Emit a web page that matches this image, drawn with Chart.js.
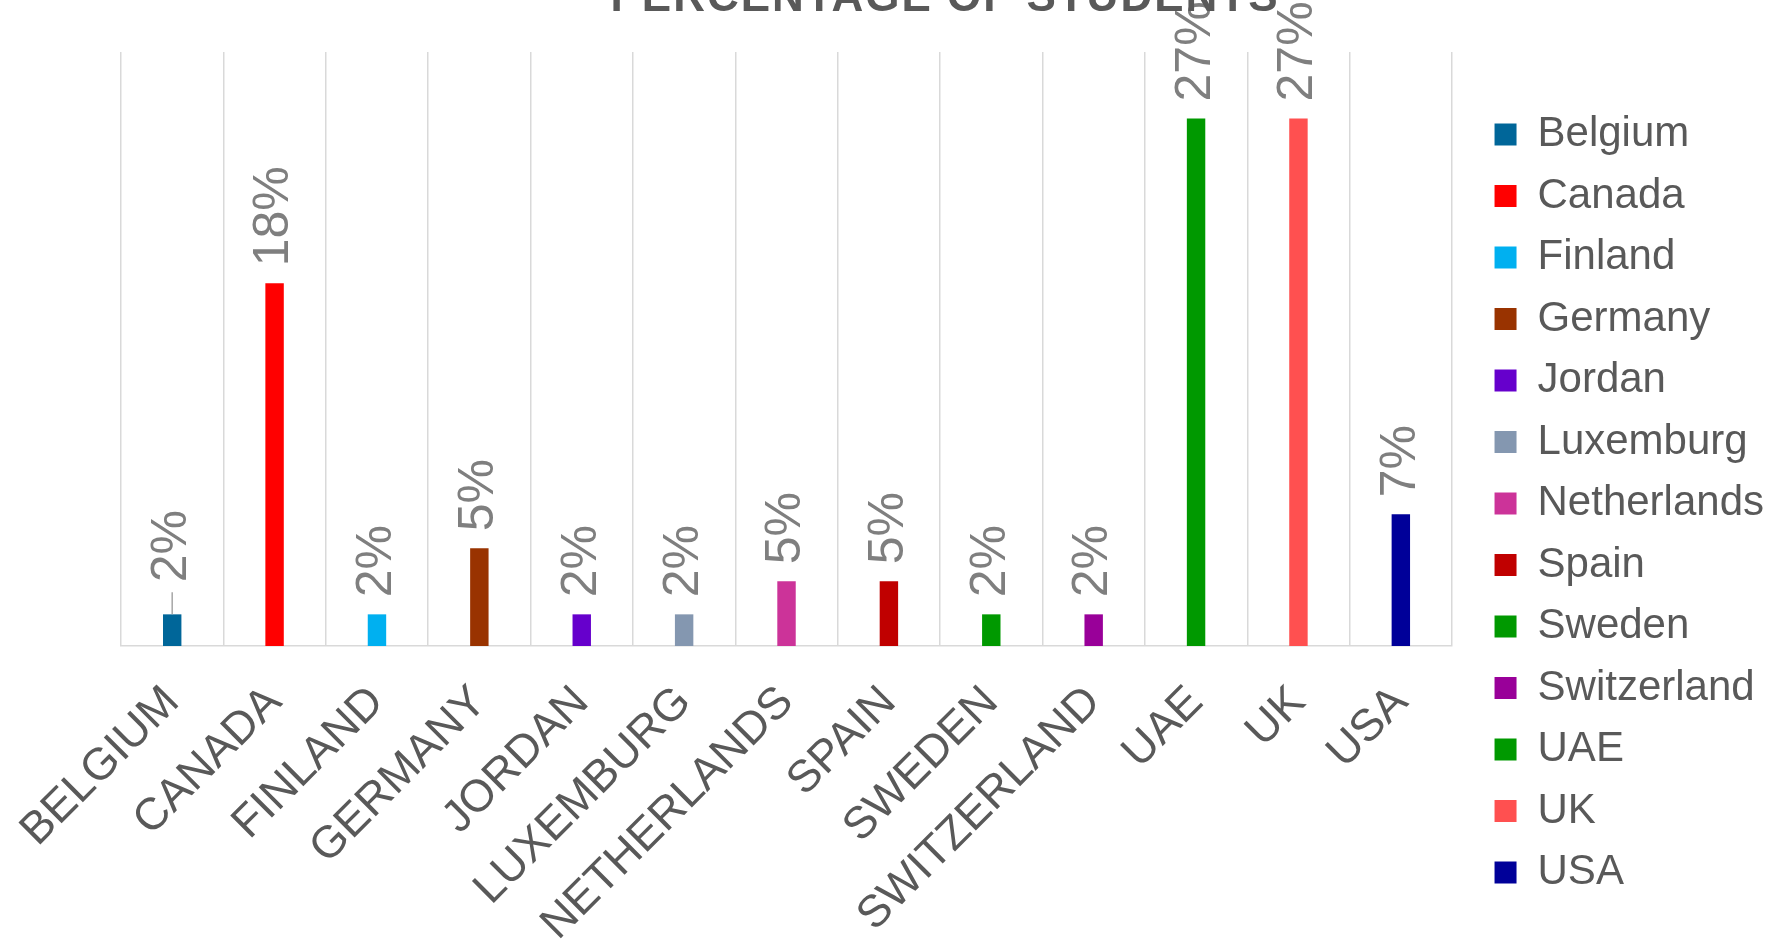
<!DOCTYPE html>
<html lang="en">
<head>
    <meta charset="UTF-8">
    <meta name="viewport" content="width=device-width, initial-scale=1.0">
    <title>Percentage of students</title>
    <style>
        html, body { margin: 0; padding: 0; background: #fff; overflow: hidden; }
        .chart-container { position: relative; width: 1781px; height: 955px; }
    </style>
</head>
<body>
    <div class="chart-container">
        <canvas id="myChart"></canvas>
    </div>
</body>
<script src="https://cdn.jsdelivr.net/npm/chart.js@4.4.1/dist/chart.umd.min.js"></script>
<script>
    // datos
    var paises = ["Belgium", "Canada", "Finland", "Germany", "Jordan", "Luxemburg", "Netherlands",
                  "Spain", "Sweden", "Switzerland", "UAE", "UK", "USA"];
    var valores = [1.62, 18.56, 1.62, 5.0, 1.62, 1.62, 3.31, 3.31, 1.62, 1.62, 27, 27, 6.74];
    var etiquetas = ["2%", "18%", "2%", "5%", "2%", "2%", "5%", "5%", "2%", "2%", "27%", "27%", "7%"];
    var colores = ["#006699", "#FF0000", "#00B0F0", "#993300", "#6600CC", "#8497B0", "#CC3399",
                   "#C00000", "#009900", "#990099", "#009900", "#FF5050", "#000099"];
    var titulo = "PERCENTAGE OF STUDENTS";

    var fuente = '"Liberation Sans", Arial, sans-serif';

    // etiquetas de datos giradas encima de cada barra
    var etiquetasPlugin = {
        id: 'etiquetas',
        afterDatasetsDraw: function(chart) {
            var ctx = chart.ctx;
            ctx.save();
            ctx.font = '50px ' + fuente;
            ctx.fillStyle = '#7F7F7F';
            ctx.textAlign = 'left';
            ctx.textBaseline = 'middle';
            chart.data.datasets.forEach(function(ds, i) {
                var bar = chart.getDatasetMeta(i).data[i];
                var sep = 17;
                if (i === 0) {
                    // la etiqueta de Belgica esta movida y tiene linea guia
                    sep = 32;
                    ctx.strokeStyle = '#A6A6A6';
                    ctx.lineWidth = 1.5;
                    ctx.beginPath();
                    ctx.moveTo(bar.x, bar.y);
                    ctx.lineTo(bar.x, bar.y - 22);
                    ctx.stroke();
                }
                ctx.save();
                ctx.translate(bar.x, bar.y - sep);
                ctx.rotate(-Math.PI / 2);
                ctx.fillText(etiquetas[i], 0, 0);
                ctx.restore();
            });
            ctx.restore();
        }
    };

    // titulo cortado arriba, como en la imagen
    var tituloPlugin = {
        id: 'titulo',
        afterDraw: function(chart) {
            var ctx = chart.ctx;
            ctx.save();
            ctx.font = 'bold 44px ' + fuente;
            ctx.letterSpacing = '2px';
            ctx.fillStyle = '#595959';
            ctx.textAlign = 'center';
            ctx.textBaseline = 'alphabetic';
            ctx.fillText(titulo, 945, 11);
            ctx.restore();
        }
    };

    var datasets = paises.map(function(p, i) {
        return {
            label: p,
            data: paises.map(function(_, j) { return j === i ? valores[i] : null; }),
            backgroundColor: colores[i],
            borderWidth: 0,
            grouped: false,
            barPercentage: 0.18,
            categoryPercentage: 1
        };
    });

    var ctx = document.getElementById('myChart').getContext('2d');
    var myChart = new Chart(ctx, {
        type: 'bar',
        data: {
            labels: paises,
            datasets: datasets
        },
        options: {
            responsive: true,
            maintainAspectRatio: false,
            animation: false,
            layout: {
                padding: { left: 121, top: 52, right: 7, bottom: 0 }
            },
            plugins: {
                legend: {
                    position: 'right',
                    labels: {
                        boxWidth: 22,
                        boxHeight: 22,
                        padding: 19.5,
                        color: '#595959',
                        font: { family: fuente, size: 42 }
                    }
                },
                tooltip: { enabled: false }
            },
            scales: {
                x: {
                    grid: { color: '#D9D9D9', lineWidth: 1.5, drawTicks: false, offset: true },
                    border: { color: '#D9D9D9', width: 1.5 },
                    ticks: {
                        color: '#595959',
                        font: { family: fuente, size: 45 },
                        minRotation: 45,
                        maxRotation: 45,
                        autoSkip: false,
                        padding: 30,
                        callback: function(v) { return this.getLabelForValue(v).toUpperCase(); }
                    },
                    afterFit: function(scale) {
                        scale.height = 955 - 646;
                        scale.paddingLeft = 0;
                        scale.paddingRight = 0;
                    }
                },
                y: {
                    display: false,
                    min: 0,
                    max: 30.4
                },
                espacio: {
                    type: 'linear',
                    axis: 'y',
                    position: 'right',
                    display: true,
                    grid: { display: false },
                    ticks: { display: false },
                    border: { display: false },
                    afterFit: function(scale) { scale.width = 23; }
                }
            }
        },
        plugins: [etiquetasPlugin, tituloPlugin]
    });
</script>
</html>
